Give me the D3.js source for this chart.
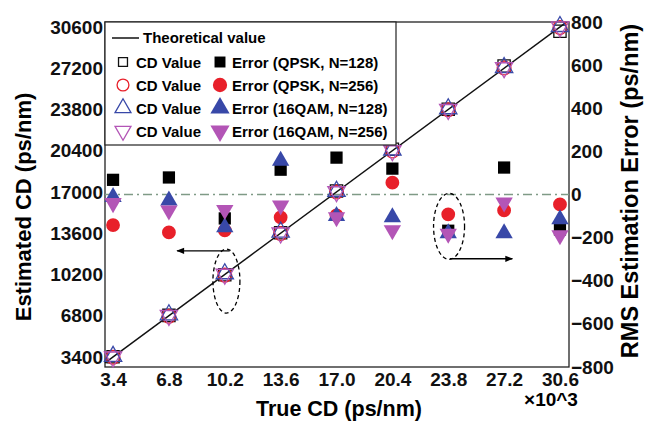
<!DOCTYPE html>
<html>
<head>
<meta charset="utf-8">
<script src="https://cdn.jsdelivr.net/npm/d3@7"></script>
<style>
  body { margin: 0; background: #fff; }
  text { font-family: 'Liberation Sans', Arial, sans-serif; font-weight: bold; }
</style>
</head>
<body>
<div id="chart"></div>
<script>
// true CD (x10^3 ps/nm)
const trueCD = [3.4, 6.8, 10.2, 13.6, 17.0, 20.4, 23.8, 27.2, 30.6];
const xTicks = [3.4, 6.8, 10.2, 13.6, 17.0, 20.4, 23.8, 27.2, 30.6];
const yLeftTicks = [3400, 6800, 10200, 13600, 17000, 20400, 23800, 27200, 30600];
const yRightTicks = [-800, -600, -400, -200, 0, 200, 400, 600, 800];

// theoretical line end points
const theoX = [2.91, 31.0];
const theoY = [2910, 31000];

// estimated CD values (left axis)
const cdQpsk128 = [3420, 6830, 10180, 13640, 17080, 20520, 23820, 27380, 30250];
const cdQpsk256 = [3380, 6760, 10150, 13580, 17000, 20380, 23780, 27220, 30560];
const cd16qam128 = [3450, 6880, 10260, 13700, 17060, 20460, 23860, 27260, 30640];
const cd16qam256 = [3400, 6820, 10220, 13620, 17020, 20400, 23800, 27240, 30600];

// RMS estimation error (right axis)
const errQpsk128 = [68, 79, -111, 115, 171, 120, -168, 125, -162];
const errQpsk256 = [-142, -176, -166, -106, -97, 55, -92, -74, -46];
const err16qam128 = [-12, -28, -152, 157, -100, -106, -180, -180, -115];
const err16qam256 = [-40, -74, -72, -51, -106, -166, -182, -37, -189];

const width = 648;
const height = 426;
const margin = { top: 22, right: 79, bottom: 59, left: 105 };
const plotW = width - margin.left - margin.right;
const plotH = height - margin.top - margin.bottom;

const red = '#e8202a';
const blue = '#3848a8';
const purple = '#b355b6';

const svg = d3.select('#chart')
  .append('svg')
  .attr('width', width)
  .attr('height', height);

const g = svg.append('g')
  .attr('transform', `translate(${margin.left},${margin.top})`);

const x = d3.scaleLinear().domain([2.91, 31.15]).range([0, plotW]);
const yL = d3.scaleLinear().domain([2576, 31010]).range([plotH, 0]);
const yR = d3.scaleLinear().domain([-800, 800]).range([plotH, 0]);

// axes
g.append('g')
  .attr('transform', `translate(0,${plotH})`)
  .call(d3.axisBottom(x).tickValues(xTicks).tickFormat(d3.format('.1f')).tickSize(0).tickPadding(6))
  .call((a) => a.select('.domain').remove());

g.append('g')
  .call(d3.axisLeft(yL).tickValues(yLeftTicks).tickFormat((d) => d).tickSize(0).tickPadding(2))
  .call((a) => a.select('.domain').remove());

g.append('g')
  .attr('transform', `translate(${plotW},0)`)
  .call(d3.axisRight(yR).tickValues(yRightTicks).tickSize(0).tickPadding(2))
  .call((a) => a.select('.domain').remove());

g.selectAll('.tick text')
  .attr('font-size', 19)
  .attr('fill', '#111');

// frame
g.append('rect')
  .attr('width', plotW)
  .attr('height', plotH)
  .attr('fill', 'none')
  .attr('stroke', '#222')
  .attr('stroke-width', 1.3);

// zero line of error axis
g.append('line')
  .attr('x1', 0)
  .attr('x2', plotW)
  .attr('y1', yR(0))
  .attr('y2', yR(0))
  .attr('stroke', '#7f9a86')
  .attr('stroke-width', 1.5)
  .attr('stroke-dasharray', '9,4,2,4');

// theoretical line
const line = d3.line()
  .x((d) => x(d[0]))
  .y((d) => yL(d[1]));

g.append('path')
  .datum(d3.zip(theoX, theoY))
  .attr('d', line)
  .attr('fill', 'none')
  .attr('stroke', '#111')
  .attr('stroke-width', 1.5);

const sym = {
  square: d3.symbol().type(d3.symbolSquare).size(150),
  circle: d3.symbol().type(d3.symbolCircle).size(150),
  up: d3.symbol().type(d3.symbolTriangle).size(130),
  down: d3.symbol().type(d3.symbolTriangle).size(130),
};

function drawSeries(vals, scale, shape, color, filled) {
  g.append('g')
    .selectAll('path')
    .data(d3.zip(trueCD, vals))
    .enter()
    .append('path')
    .attr('d', sym[shape])
    .attr('transform', (d) => `translate(${x(d[0])},${scale(d[1])})${shape === 'down' ? ' rotate(180)' : ''}`)
    .attr('fill', filled ? color : 'none')
    .attr('stroke', filled ? 'none' : color)
    .attr('stroke-width', 1.3);
}

// error markers
drawSeries(errQpsk128, yR, 'square', '#000', true);
drawSeries(errQpsk256, yR, 'circle', red, true);
drawSeries(err16qam128, yR, 'up', blue, true);
drawSeries(err16qam256, yR, 'down', purple, true);

// CD markers
drawSeries(cdQpsk128, yL, 'square', '#111', false);
drawSeries(cdQpsk256, yL, 'circle', red, false);
drawSeries(cd16qam128, yL, 'up', blue, false);
drawSeries(cd16qam256, yL, 'down', purple, false);

// dashed ellipses and arrows
const defs = svg.append('defs');
defs.append('marker')
  .attr('id', 'arrow')
  .attr('viewBox', '0 0 10 10')
  .attr('refX', 9)
  .attr('refY', 5)
  .attr('markerWidth', 7)
  .attr('markerHeight', 6)
  .attr('orient', 'auto')
  .append('path')
  .attr('d', 'M0,1L10,5L0,9Z')
  .attr('fill', '#000');

g.append('ellipse')
  .attr('cx', x(10.3))
  .attr('cy', yL(9660))
  .attr('rx', 13.5)
  .attr('ry', 32)
  .attr('fill', 'none')
  .attr('stroke', '#000')
  .attr('stroke-width', 1.3)
  .attr('stroke-dasharray', '4,3');

g.append('line')
  .attr('x1', x(10.5))
  .attr('x2', x(7.3))
  .attr('y1', yR(-261))
  .attr('y2', yR(-261))
  .attr('stroke', '#000')
  .attr('stroke-width', 1.3)
  .attr('marker-end', 'url(#arrow)');

g.append('ellipse')
  .attr('cx', x(23.85))
  .attr('cy', yR(-148))
  .attr('rx', 15.5)
  .attr('ry', 33)
  .attr('fill', 'none')
  .attr('stroke', '#000')
  .attr('stroke-width', 1.3)
  .attr('stroke-dasharray', '4,3');

g.append('line')
  .attr('x1', x(23.9))
  .attr('x2', x(27.7))
  .attr('y1', yR(-298))
  .attr('y2', yR(-298))
  .attr('stroke', '#000')
  .attr('stroke-width', 1.3)
  .attr('marker-end', 'url(#arrow)');

// legend
const lg = svg.append('g').attr('transform', 'translate(105,22)');
lg.append('rect')
  .attr('width', 291)
  .attr('height', 123)
  .attr('fill', '#fff')
  .attr('stroke', '#222')
  .attr('stroke-width', 1.2);

lg.append('line')
  .attr('x1', 7).attr('x2', 34)
  .attr('y1', 16).attr('y2', 16)
  .attr('stroke', '#111')
  .attr('stroke-width', 1.5);
lg.append('text')
  .attr('x', 38).attr('y', 21)
  .attr('font-size', 15)
  .text('Theoretical value');

const legendRows = [
  { shape: 'square', color: '#111', label: 'Error (QPSK, N=128)' },
  { shape: 'circle', color: red, label: 'Error (QPSK, N=256)' },
  { shape: 'up', color: blue, label: 'Error (16QAM, N=128)' },
  { shape: 'down', color: purple, label: 'Error (16QAM, N=256)' },
];

legendRows.forEach((r, i) => {
  const yy = 40 + i * 23;
  const rot = r.shape === 'down' ? ' rotate(180)' : '';
  lg.append('path')
    .attr('d', d3.symbol().type(r.shape === 'square' ? d3.symbolSquare
      : r.shape === 'circle' ? d3.symbolCircle : d3.symbolTriangle).size(r.shape === 'square' ? 80 : 110))
    .attr('transform', `translate(18,${yy})${rot}`)
    .attr('fill', 'none')
    .attr('stroke', r.color)
    .attr('stroke-width', 1.3);
  lg.append('text')
    .attr('x', 31).attr('y', yy + 5.5)
    .attr('font-size', 15)
    .text('CD Value');
  lg.append('path')
    .attr('d', d3.symbol().type(r.shape === 'square' ? d3.symbolSquare
      : r.shape === 'circle' ? d3.symbolCircle : d3.symbolTriangle).size(r.shape === 'square' ? 120 : 160))
    .attr('transform', `translate(115,${yy})${rot}`)
    .attr('fill', r.shape === 'square' ? '#000' : r.color);
  lg.append('text')
    .attr('x', 127).attr('y', yy + 5.5)
    .attr('font-size', 15)
    .text(r.label);
});

// axis titles
svg.append('text')
  .attr('x', 339)
  .attr('y', 416)
  .attr('text-anchor', 'middle')
  .attr('font-size', 21.5)
  .text('True CD (ps/nm)');

svg.append('text')
  .attr('x', 551)
  .attr('y', 406)
  .attr('text-anchor', 'middle')
  .attr('font-size', 19)
  .text('\u00d710^3');

svg.append('text')
  .attr('transform', 'translate(31,207) rotate(-90)')
  .attr('text-anchor', 'middle')
  .attr('font-size', 22)
  .text('Estimated CD (ps/nm)');

svg.append('text')
  .attr('transform', 'translate(638,191) rotate(-90)')
  .attr('text-anchor', 'middle')
  .attr('font-size', 23.5)
  .text('RMS Estimation Error (ps/nm)');
</script>
</body>
</html>
